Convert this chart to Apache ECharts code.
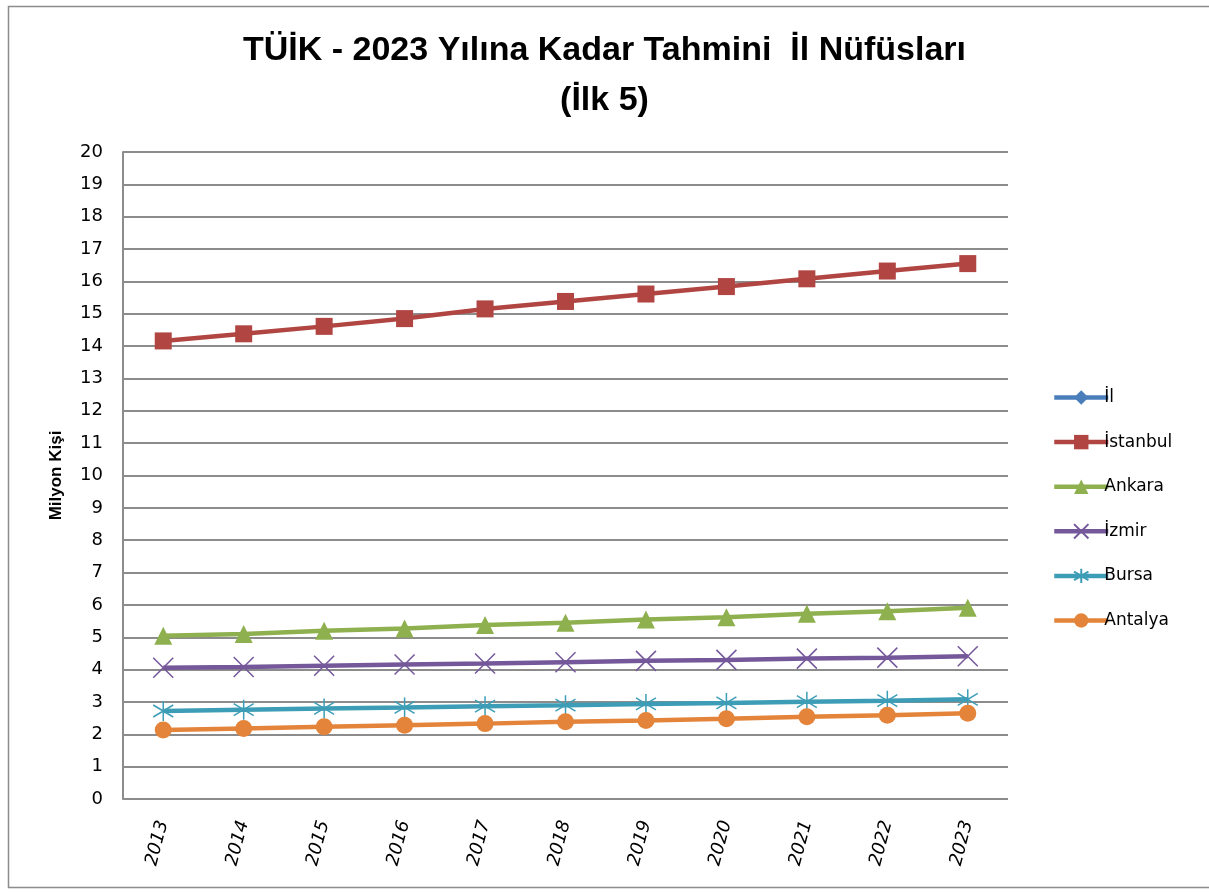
<!DOCTYPE html>
<html>
<head>
<meta charset="utf-8">
<script src="https://cdn.jsdelivr.net/npm/echarts@6/dist/echarts.min.js"></script>
<style>
  html, body { margin: 0; padding: 0; background: #fff; }
  #main { width: 1209px; height: 892px; }
</style>
</head>
<body>
<div id="main"></div>
<script>
var years = ['2013', '2014', '2015', '2016', '2017', '2018', '2019', '2020', '2021', '2022', '2023'];
var il = [];
var istanbul = [14.16, 14.38, 14.61, 14.85, 15.15, 15.38, 15.61, 15.84, 16.08, 16.32, 16.55];
var ankara = [5.05, 5.10, 5.20, 5.27, 5.38, 5.45, 5.55, 5.62, 5.73, 5.80, 5.91];
var izmir = [4.06, 4.08, 4.12, 4.16, 4.19, 4.23, 4.27, 4.30, 4.34, 4.37, 4.41];
var bursa = [2.72, 2.76, 2.80, 2.83, 2.87, 2.90, 2.94, 2.97, 3.01, 3.04, 3.08];
var antalya = [2.13, 2.18, 2.23, 2.28, 2.33, 2.39, 2.43, 2.48, 2.54, 2.59, 2.65];

var chartDom = document.getElementById('main');
var myChart = echarts.init(chartDom);
var option;

var font = 'DejaVu Sans';

// excel benzeri seri tanımı
function seri(ad, veri, renk, sembol, boyut, cizgi) {
    var s = {
        name: ad,
        type: 'line',
        data: veri,
        symbol: sembol,
        symbolSize: boyut,
        showAllSymbol: true,
        animation: false,
        lineStyle: { color: renk, width: 4.5 },
        itemStyle: { color: renk }
    };
    if (cizgi) {
        // X ve yıldız işaretleri sadece çizgi
        s.itemStyle = { color: 'rgba(0,0,0,0)', borderColor: renk, borderWidth: 1.5 };
    }
    return s;
}

option = {
    backgroundColor: '#fff',
    title: {
        text: 'TÜİK - 2023 Yılına Kadar Tahmini  İl Nüfüsları\n(İlk 5)',
        left: 'center',
        top: 21,
        textStyle: {
            fontFamily: 'Liberation Sans',
            fontSize: 34,
            fontWeight: 'bold',
            color: '#000',
            lineHeight: 50
        }
    },
    legend: {
        orient: 'vertical',
        left: 1047,
        top: 384,
        itemWidth: 54,
        itemHeight: 18,
        itemGap: 27.6,
        lineStyle: { width: 4.5 },
        textStyle: { fontFamily: font, fontSize: 17, color: '#000', padding: [0, 0, 0, -9] },
        data: ['İl', 'İstanbul', 'Ankara', 'İzmir', 'Bursa', 'Antalya']
    },
    grid: {
        left: 123,
        right: 201,
        top: 152,
        bottom: 93
    },
    graphic: [
        {
            type: 'rect',
            shape: { x: 8.5, y: 6.5, width: 1230, height: 881 },
            style: { fill: 'none', stroke: '#8c8c8c', lineWidth: 1.5 },
            silent: true
        }
    ],
    xAxis: {
        type: 'category',
        data: years,
        boundaryGap: true,
        axisLine: { show: false },
        axisTick: { show: false },
        axisLabel: {
            rotate: 75,
            margin: 22,
            fontFamily: font,
            fontStyle: 'italic',
            fontSize: 18,
            color: '#000'
        }
    },
    yAxis: {
        type: 'value',
        min: 0,
        max: 20,
        interval: 1,
        name: 'Milyon Kişi',
        nameLocation: 'middle',
        nameGap: 58,
        nameTextStyle: {
            fontFamily: 'Liberation Sans',
            fontSize: 17,
            fontWeight: 'bold',
            color: '#000'
        },
        axisLine: { show: true, lineStyle: { color: '#8c8c8c', width: 2 } },
        axisTick: { show: false },
        axisLabel: {
            margin: 20,
            fontFamily: font,
            fontSize: 18,
            color: '#000'
        },
        splitLine: { lineStyle: { color: '#8c8c8c', width: 2 } }
    },
    series: [
        seri('İl', il, '#4A7EBB', 'diamond', 16),
        seri('İstanbul', istanbul, '#B04542', 'rect', 17),
        seri('Ankara', ankara, '#8EB04E', 'triangle', 18),
        seri('İzmir', izmir, '#74589A', 'path://M0,0L10,10M10,0L0,10', 20, true),
        seri('Bursa', bursa, '#3E9DB6', 'path://M5,0L5,10M0,2L10,8M10,2L0,8', 20, true),
        seri('Antalya', antalya, '#E3843A', 'circle', 17)
    ]
};

option && myChart.setOption(option);
window.onresize = function () {
    myChart.resize();
}
</script>
</body>
</html>
